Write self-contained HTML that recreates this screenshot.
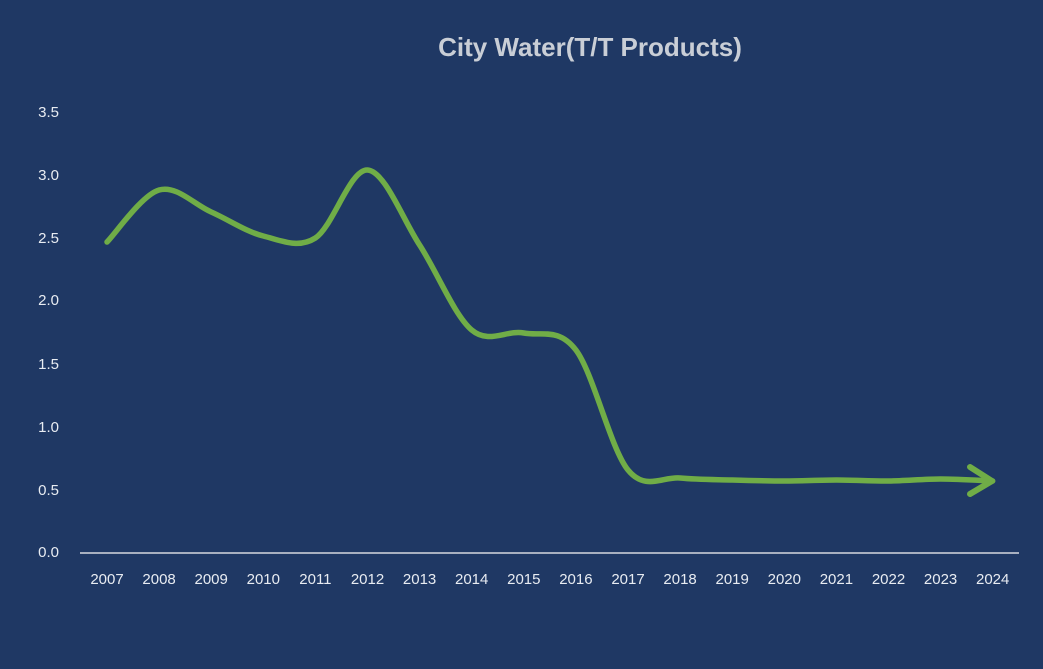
<!DOCTYPE html>
<html><head><meta charset="utf-8"><style>
html,body{margin:0;padding:0;background:#1f3864;}
svg{display:block;}
text{font-family:"Liberation Sans",sans-serif;fill:#e8ecf2;}
</style></head><body>
<svg id="s" width="1043" height="669" viewBox="0 0 1043 669">
<rect width="1043" height="669" fill="#1f3864"/>
<text x="590" y="56" font-size="26" font-weight="bold" text-anchor="middle" fill="#c9ced6" style="fill:#c9ced6">City Water(T/T Products)</text>
<g font-size="15" text-anchor="end">
<text x="59" y="117">3.5</text><text x="59" y="180">3.0</text><text x="59" y="243">2.5</text><text x="59" y="305">2.0</text><text x="59" y="369">1.5</text><text x="59" y="432">1.0</text><text x="59" y="495">0.5</text><text x="59" y="557">0.0</text>
</g>
<line x1="80" y1="553" x2="1019" y2="553" stroke="#a8b0c0" stroke-width="2"/>
<g id="xl" font-size="15" text-anchor="middle"></g>
<path id="ln" fill="none" stroke="#70ad47" stroke-width="5.5" stroke-linecap="round" stroke-linejoin="round"/>
<path d="M970,467 L992,481 L970,494" fill="none" stroke="#70ad47" stroke-width="6" stroke-linecap="round" stroke-linejoin="round"/>
</svg>
<script>
var ys=[242,190,212,236,238,170,245,330,333,350,470,478,480,481,480,481,479,481];
var xs=[];for(var i=0;i<18;i++)xs.push(107+i*52.1);
var g=document.getElementById('xl'),h='';
for(var i=0;i<18;i++)h+='<text x="'+xs[i]+'" y="584">'+(2007+i)+'</text>';
g.innerHTML=h;
var d='M'+xs[0]+','+ys[0];
for(var i=0;i<17;i++){var x0=xs[Math.max(i-1,0)],y0=ys[Math.max(i-1,0)],x1=xs[i],y1=ys[i],x2=xs[i+1],y2=ys[i+1],x3=xs[Math.min(i+2,17)],y3=ys[Math.min(i+2,17)];
d+=' C'+(x1+(x2-x0)/6)+','+(y1+(y2-y0)/6)+' '+(x2-(x3-x1)/6)+','+(y2-(y3-y1)/6)+' '+x2+','+y2;}
document.getElementById('ln').setAttribute('d',d);
</script>
</body></html>
